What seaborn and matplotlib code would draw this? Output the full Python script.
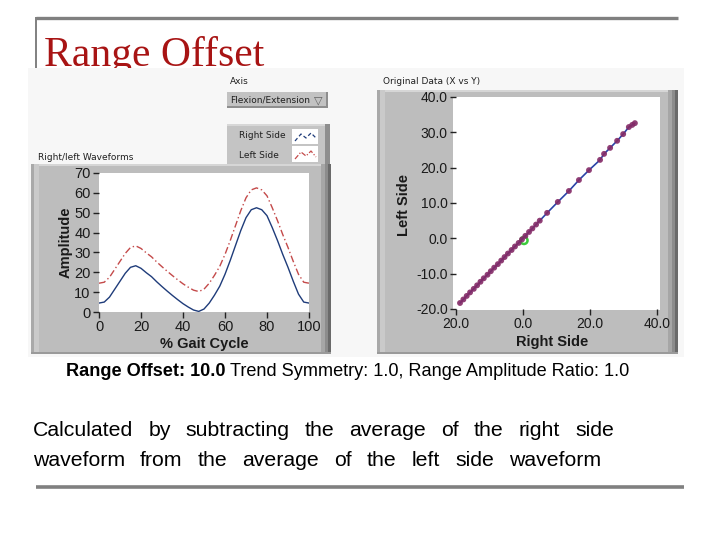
"""
Range Offset slide: right/left gait waveforms and X-vs-Y comparison,
rebuilt with seaborn on a single 720x540 canvas.
"""

import matplotlib.pyplot as plt
import seaborn as sns
from matplotlib.patches import Rectangle

# --- data ------------------------------------------------------------------
gait_pct = [0, 2.5, 5, 7.5, 10, 12.5, 15, 17.5, 20, 22.5, 25, 27.5, 30, 32.5,
            35, 37.5, 40, 42.5, 45, 47.5, 50, 52.5, 55, 57.5, 60, 62.5, 65,
            67.5, 70, 72.5, 75, 77.5, 80, 82.5, 85, 87.5, 90, 92.5, 95, 97.5, 100]
right_side = [4.5, 5.0, 7.5, 11.5, 15.5, 19.5, 22.5, 23.3, 22.0, 19.8, 17.8,
              15.2, 12.8, 10.5, 8.3, 6.2, 4.2, 2.5, 1.0, 0.3, 1.5, 4.5, 8.5,
              13.0, 19.0, 26.0, 33.5, 41.0, 47.5, 51.5, 52.5, 51.5, 48.5, 42.5,
              36.0, 29.0, 22.5, 15.5, 9.0, 5.0, 4.5]
left_side = [14.5, 15.0, 17.5, 21.5, 25.5, 29.5, 32.5, 33.3, 32.0, 29.8, 27.8,
             25.2, 22.8, 20.5, 18.3, 16.2, 14.2, 12.5, 11.0, 10.3, 11.5, 14.5,
             18.5, 23.0, 29.0, 36.0, 43.5, 51.0, 57.5, 61.5, 62.5, 61.5, 58.5,
             52.5, 46.0, 39.0, 32.5, 25.5, 19.0, 15.0, 14.5]

xy_right = [-18.8, -17.8, -16.8, -15.8, -14.7, -13.7, -12.7, -11.7, -10.6,
            -9.6, -8.6, -7.5, -6.5, -5.5, -4.5, -3.4, -2.4, -1.3, -0.3, 0.7,
            1.8, 2.8, 3.9, 5.0, 7.2, 10.4, 13.7, 16.7, 19.7, 23.0, 24.2, 26.0,
            28.1, 29.9, 31.6, 32.6, 33.4]
xy_left = [-18.3, -17.3, -16.3, -15.3, -14.3, -13.3, -12.3, -11.3, -10.3,
           -9.3, -8.3, -7.3, -6.3, -5.3, -4.3, -3.3, -2.3, -1.3, -0.3, 0.7,
           1.8, 2.8, 3.9, 5.0, 7.2, 10.3, 13.4, 16.5, 19.3, 22.2, 23.9, 25.6,
           27.6, 29.5, 31.5, 32.1, 32.6]
origin_x = [0.3]
origin_y = [-0.6]

wave_yticks = [0, 10, 20, 30, 40, 50, 60, 70]
wave_xticks = [0, 20, 40, 60, 80, 100]
xy_yticks = [-20, -10, 0, 10, 20, 30, 40]
xy_ytick_labels = ["-20.0", "-10.0", "0.0", "10.0", "20.0", "30.0", "40.0"]
xy_xticks = [-20, 0, 20, 40]
xy_xtick_labels = ["20.0", "0.0", "20.0", "40.0"]

summary_bold = "Range Offset: 10.0"
summary_rest = "Trend Symmetry: 1.0, Range Amplitude Ratio: 1.0"
body_lines = ["Calculated by subtracting the average of the right side",
              "waveform from the average of the left side waveform"]

BLUE = "#1F3C7A"
RED = "#C44A4A"
DOT = "#842A66"
FRAME = "#BDBDBD"

sns.set_theme(style="white")
plt.rcParams["font.family"] = ["Liberation Sans", "DejaVu Sans"]

W, H = 720, 540
fig = plt.figure(figsize=(W / 100, H / 100), dpi=100)


def px_rect(x0, y0, x1, y1):
    """Pixel box (top-left origin) -> figure-fraction [l, b, w, h]."""
    return [x0 / W, 1 - y1 / H, (x1 - x0) / W, (y1 - y0) / H]


# background canvas in pixel coordinates
bg = fig.add_axes([0, 0, 1, 1], zorder=-10)
bg.set_xlim(0, W)
bg.set_ylim(H, 0)
bg.axis("off")


def box(x0, y0, x1, y1, color, z=1, **kw):
    bg.add_patch(Rectangle((x0, y0), x1 - x0, y1 - y0, facecolor=color,
                           edgecolor="none", zorder=z, **kw))


def bevel_frame(x0, y0, x1, y1):
    box(x0, y0, x1, y1, FRAME)
    box(x0, y0, x1, y0 + 2, "#D6D6D6", 2)
    box(x0, y0, x0 + 3, y1, "#A9A9A9", 2)
    box(x0 + 3, y0, x0 + 8, y1, "#CACACA", 2)
    box(x1 - 10, y0, x1 - 6, y1, "#A6A6A6", 2)
    box(x1 - 6, y0, x1 - 3, y1, "#8C8C8C", 2)
    box(x1 - 3, y0, x1, y1, "#6A6A6A", 2)
    box(x0, y1 - 2, x1, y1, "#9A9A9A", 2)


# slide decoration
bg.plot([36, 678], [18, 18], color="#808080", lw=2.4, solid_capstyle="butt")
bg.plot([36, 36], [17, 68], color="#808080", lw=1.4, solid_capstyle="butt")
bg.plot([36, 684], [487, 487], color="#808080", lw=2.6, solid_capstyle="butt")
bg.text(44, 66, "Range Offset", fontsize=30, color="#A81414",
        family=["Liberation Serif", "DejaVu Serif"], va="baseline", zorder=0)

# screenshot panel
box(28, 68, 684, 357, "#F7F7F7", 1)
bevel_frame(31, 164, 331, 354)
bevel_frame(377, 90, 678, 354)
box(453, 97, 660, 310, "white", 3)

small = dict(fontsize=6.5, color="#202020", family=["DejaVu Sans"], zorder=4)
bg.text(38, 157, "Right/left Waveforms", va="center", **small)
bg.text(383, 82, "Original Data (X vs Y)", va="center", **small)
bg.text(230, 82, "Axis", va="center", **small)

# dropdown
box(227, 92, 328, 108, "#C2C2C2", 3)
box(227, 106, 328, 108, "#8E8E8E", 4)
box(326, 92, 328, 108, "#8E8E8E", 4)
bg.text(230, 100, "Flexion/Extension", va="center", **small)
bg.text(318, 100, "\u25bd", va="center", ha="center", fontsize=8,
        color="#606060", zorder=4)

# legend
box(227, 124, 330, 164, "#C4C4C4", 3)
box(227, 124, 330, 126, "#D8D8D8", 4)
box(325, 124, 330, 164, "#8E8E8E", 4)
box(292, 129, 318, 144, "white", 4)
box(292, 146, 318, 162, "white", 4)
bg.text(239, 136, "Right Side", va="center", **small)
bg.text(239, 155, "Left Side", va="center", **small)
bg.plot([295, 301, 306, 311, 316], [141, 134, 138, 133, 138], color=BLUE,
        lw=0.9, ls=(0, (3, 2)), zorder=5)
bg.plot([295, 301, 306, 311, 316], [159, 152, 156, 151, 157], color=RED,
        lw=0.9, ls=(0, (4, 1.5, 1, 1.5)), zorder=5)


def labview_axes(ax):
    ax.set_facecolor("white")
    for s in ax.spines.values():
        s.set_visible(False)
    ax.tick_params(axis="both", which="both", direction="out", length=4,
                   width=1, color="#222222", labelcolor="#1A1A1A", pad=2,
                   left=True, bottom=True)


# left: waveforms
ax1 = fig.add_axes(px_rect(99, 173, 309, 312))
sns.lineplot(x=gait_pct, y=right_side, color=BLUE, lw=1.0, ax=ax1)
sns.lineplot(x=gait_pct, y=left_side, color=RED, lw=1.0,
             dashes=False, ax=ax1).lines[-1].set_linestyle((0, (5, 2, 1, 2)))
ax1.set_xlim(0, 100)
ax1.set_ylim(0, 70)
ax1.set_xticks(wave_xticks)
ax1.set_yticks(wave_yticks)
labview_axes(ax1)
ax1.tick_params(labelsize=10.5)
ax1.set_xlabel("% Gait Cycle", fontsize=10.5, fontweight="bold", color="#1A1A1A")
ax1.set_ylabel("Amplitude", fontsize=10.5, fontweight="bold", color="#1A1A1A")
ax1.xaxis.set_label_coords(0.5, -0.23)
ax1.xaxis.label.set_va("center")
ax1.yaxis.set_label_coords(-0.16, 0.5)
ax1.yaxis.label.set_va("center")

# right: original data X vs Y
ax2 = fig.add_axes(px_rect(456, 97, 657, 309))
sns.scatterplot(x=origin_x, y=origin_y, marker="o", s=26, facecolor="none",
                edgecolor="#3CCB3C", linewidth=1.8, zorder=2, ax=ax2)
sns.lineplot(x=xy_right, y=xy_left, sort=False, estimator=None, color="#2A44A8",
             lw=1.2, zorder=2.5, ax=ax2)
sns.scatterplot(x=xy_right, y=xy_left, color=DOT, s=18, edgecolor="none",
                alpha=0.9, zorder=3, ax=ax2)
ax2.set_xlim(-20, 40)
ax2.set_ylim(-20, 40)
ax2.set_xticks(xy_xticks, xy_xtick_labels)
ax2.set_yticks(xy_yticks, xy_ytick_labels)
labview_axes(ax2)
ax2.tick_params(labelsize=10)
ax2.set_xlabel("Right Side", fontsize=10.5, fontweight="bold", color="#1A1A1A")
ax2.set_ylabel("Left Side", fontsize=10.5, fontweight="bold", color="#1A1A1A")
ax2.xaxis.set_label_coords(0.48, -0.155)
ax2.xaxis.label.set_va("center")
ax2.yaxis.set_label_coords(-0.26, 0.49)
ax2.yaxis.label.set_va("center")

# captions under the screenshot
renderer = fig.canvas.get_renderer()
t_bold = bg.text(66, 372, summary_bold, fontsize=13.1, fontweight="bold",
                 color="black", va="center")
bold_w = t_bold.get_window_extent(renderer).width
bg.text(66 + bold_w + 5, 372, summary_rest, fontsize=13.1, color="black",
        va="center")


def justified(words, x0, x1, y, **kw):
    texts = [bg.text(0, y, w, va="center", **kw) for w in words]
    widths = [t.get_window_extent(renderer).width for t in texts]
    gap = (x1 - x0 - sum(widths)) / (len(words) - 1)
    x = x0
    for t, w in zip(texts, widths):
        t.set_x(x)
        x += w + gap


justified(body_lines[0].split(), 33, 614, 431, fontsize=15.3, color="black")
justified(body_lines[1].split(), 33, 601, 460, fontsize=15.3, color="black")

fig.savefig("out.png", dpi=100)
plt.close(fig)
